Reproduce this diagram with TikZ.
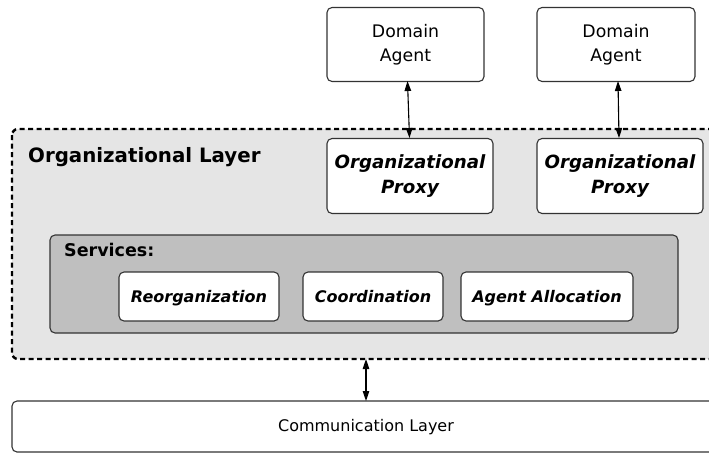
\documentclass[tikz,border=0pt]{standalone}
\usepackage{fontspec}
\setmainfont{DejaVu Sans}
\usetikzlibrary{arrows.meta}
\begin{document}
\begin{tikzpicture}[x=1pt,y=-1pt,
  box/.style={draw=black!80,line width=1.1pt,rounded corners=5pt,fill=white},
  svcbox/.style={box,minimum height=49pt,text height=13.5pt,text depth=2pt,font=\bfseries\itshape\fontsize{16}{20}\selectfont},
  dbl/.style={{Triangle[length=10pt,width=6.5pt]}-{Triangle[length=10pt,width=6.5pt]},line width=1.1pt}]
\useasboundingbox (0,0) rectangle (709,453);
% organizational layer
\draw[fill=black!10,line width=2.4pt,dash pattern=on 5pt off 3.5pt,rounded corners=6pt] (12,129) rectangle (760,359);
\coordinate (orgB) at (366,359);
\node[anchor=base west,font=\bfseries\fontsize{19.8}{24}\selectfont,inner sep=0pt] (orgt) at (28,162) {Organizational Layer};
% domain agents
\node[box,minimum width=157pt,minimum height=74pt,align=center,font=\fontsize{17.3}{24}\selectfont] (da1) at (405.5,44.5) {Domain\\Agent};
\node[box,minimum width=158pt,minimum height=74pt,align=center,font=\fontsize{17.3}{24}\selectfont] (da2) at (616,44.5) {Domain\\Agent};
% proxies
\node[box,minimum width=166pt,minimum height=75pt,align=center,font=\bfseries\itshape\fontsize{18.2}{25}\selectfont] (op1) at (410,176) {Organizational\\Proxy};
\node[box,minimum width=166pt,minimum height=75pt,align=center,font=\bfseries\itshape\fontsize{18.2}{25}\selectfont] (op2) at (620,176) {Organizational\\Proxy};
\draw[dbl] (407.5,81) -- (409.5,138);
\draw[dbl] (618,81) -- (619,138);
% services
\node[draw=black!80,line width=1.1pt,rounded corners=5pt,fill=black!25,minimum width=628pt,minimum height=98pt] (svc) at (364,284) {};
\node[anchor=base west,font=\bfseries\fontsize{17.5}{20}\selectfont,inner sep=0pt] (svct) at (64,256) {Services:};
\node[svcbox,minimum width=160pt] (reo) at (199,296.5) {Reorganization};
\node[svcbox,minimum width=140pt] (coo) at (373,296.5) {Coordination};
\node[svcbox,minimum width=172pt] (aal) at (547,296.5) {Agent Allocation};
% communication layer
\draw[box] (12,401) rectangle (760,452);
\node[font=\fontsize{16}{20}\selectfont] (comm) at (366,427) {Communication Layer};
\coordinate (commT) at (366,401);
\draw[dbl] (orgB) -- (commT);
\end{tikzpicture}
\end{document}
